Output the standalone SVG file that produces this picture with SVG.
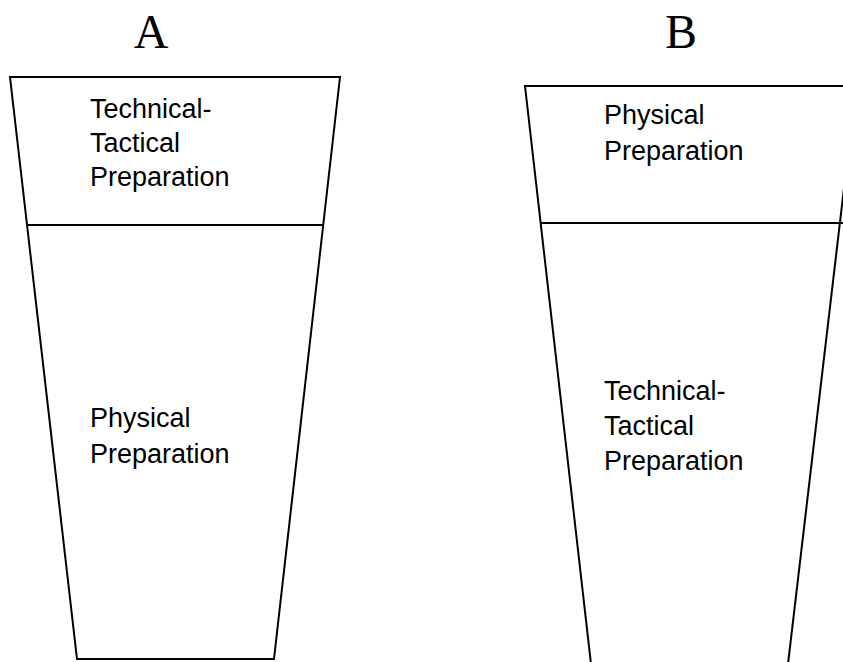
<svg xmlns="http://www.w3.org/2000/svg" width="843" height="662" viewBox="0 0 843 662">
<style>
.shape{fill:none;stroke:#000;stroke-width:2;stroke-linejoin:miter}
.lbl{font-family:"Liberation Sans",Arial,sans-serif;font-size:27px;fill:#000}
.title{font-family:"Liberation Serif","Times New Roman",serif;font-size:48px;fill:#000;text-anchor:middle}
</style>
<rect width="843" height="662" fill="#fff"/>
<g id="cupA">
<text class="title" x="151" y="48">A</text>
<polygon class="shape" points="10,77 340,77 274,659 77,659"/>
<line class="shape" x1="27" y1="225" x2="323" y2="225"/>
</g>
<g id="cupB">
<text class="title" x="681" y="48">B</text>
<polyline class="shape" points="845,86 525,86 591,664"/>
<line class="shape" x1="856" y1="86" x2="788" y2="664"/>
<line class="shape" x1="541" y1="223" x2="845" y2="223"/>
</g>
<g id="nodeA-top">
<text class="lbl" x="90" y="118">Technical-</text>
<text class="lbl" x="90" y="152">Tactical</text>
<text class="lbl" x="90" y="186">Preparation</text>
</g>
<g id="nodeA-bottom">
<text class="lbl" x="90" y="427">Physical</text>
<text class="lbl" x="90" y="463">Preparation</text>
</g>
<g id="nodeB-top">
<text class="lbl" x="604" y="124">Physical</text>
<text class="lbl" x="604" y="160">Preparation</text>
</g>
<g id="nodeB-bottom">
<text class="lbl" x="604" y="400">Technical-</text>
<text class="lbl" x="604" y="435">Tactical</text>
<text class="lbl" x="604" y="470">Preparation</text>
</g>
<g id="connectors"></g>
</svg>
